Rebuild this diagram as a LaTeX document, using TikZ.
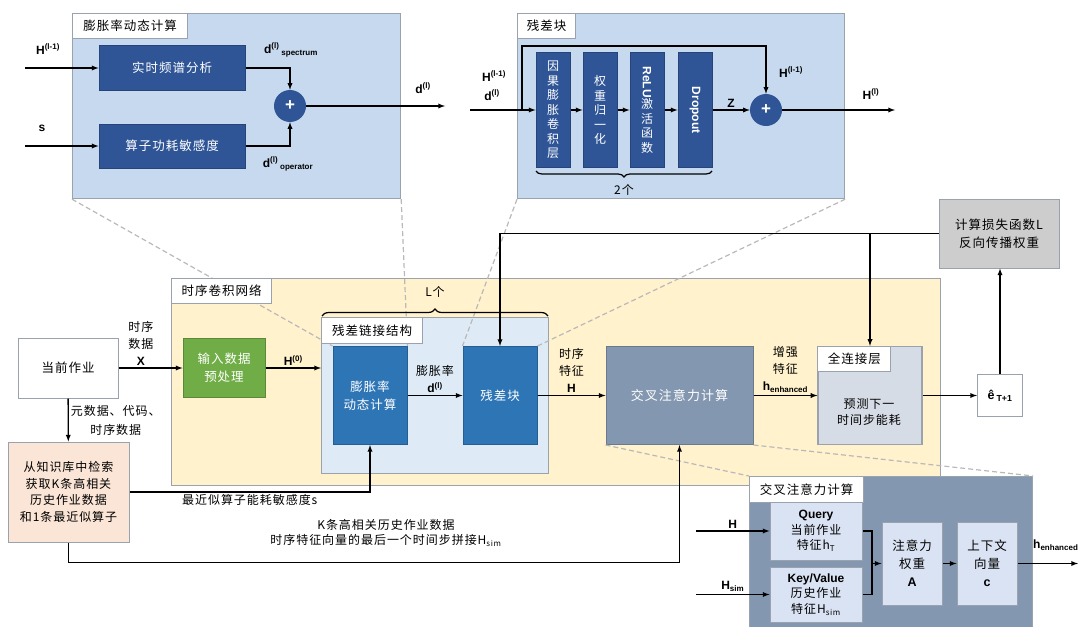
\documentclass[tikz,border=0pt]{standalone}
\usepackage{fontspec}
\usepackage{graphicx}
\setmainfont{Noto Sans CJK SC}[LetterSpace=8]
\newfontfamily\latfont{Liberation Sans}
\usetikzlibrary{decorations.pathreplacing,shapes,arrows,positioning}

\definecolor{edgegray}{HTML}{9AA3AD}
\definecolor{panelblue}{HTML}{C6D9EE}
\definecolor{darkblue}{HTML}{2F5597}
\definecolor{midblue}{HTML}{2E75B6}
\definecolor{paleblue}{HTML}{DEEBF7}
\definecolor{paleyellow}{HTML}{FFF2CC}
\definecolor{leafgreen}{HTML}{70AD47}
\definecolor{slate}{HTML}{8497B0}
\definecolor{mist}{HTML}{D6DCE5}
\definecolor{lossgray}{HTML}{CDCDCD}
\definecolor{peach}{HTML}{FBE5D6}
\definecolor{icebox}{HTML}{DAE3F3}

\tikzstyle{panel} = [rectangle, draw=edgegray, line width=1.2pt, inner sep=0pt, anchor=north west]
\tikzstyle{tag} = [rectangle, draw=edgegray, line width=1pt, fill=white, anchor=north west, inner sep=0pt, font=\fontsize{12.5}{15}\selectfont]
\tikzstyle{box} = [rectangle, draw=edgegray, line width=1pt, inner sep=0pt, align=center, font=\fontsize{12.5}{18}\selectfont]
\tikzstyle{darkbox} = [box, draw=darkblue!80!black, fill=darkblue, text=white]
\tikzstyle{midbox} = [box, draw=midblue!80!black, fill=midblue, text=white]
\tikzstyle{slim} = [darkbox, minimum width=34, minimum height=114, font=\fontsize{12}{14.5}\selectfont]
\tikzstyle{sumnode} = [circle, fill=darkblue, text=white, minimum size=32, inner sep=0pt, font=\latfont\bfseries\fontsize{17}{17}\selectfont]
\tikzstyle{note} = [align=center, inner sep=2pt, font=\fontsize{12}{17}\selectfont]
\tikzstyle{sym} = [inner sep=2pt, font=\latfont\bfseries\fontsize{12}{14}\selectfont]
\tikzstyle{wire} = [draw, line width=1.3pt, ->]
\tikzstyle{zoomline} = [draw=gray!55, line width=1.2pt, dash pattern=on 5pt off 3pt]

\newcommand{\lsym}[1]{{\latfont\bfseries #1}}

\begin{document}
\begin{tikzpicture}[x=1pt,y=-1pt,>=latex]
    \useasboundingbox (0,0) rectangle (1078,626);

    % panels
    \node [panel, fill=panelblue, minimum width=328, minimum height=185] (dynpanel) at (72,13) {};
    \node [panel, fill=panelblue, minimum width=327, minimum height=185] (respanel) at (517,13) {};
    \node [panel, fill=paleyellow, minimum width=769, minimum height=207] (tcn) at (171,278) {};
    \node [panel, fill=paleblue, minimum width=227, minimum height=156] (skipnet) at (321,317) {};
    \node [panel, fill=slate, minimum width=283, minimum height=165] (attpanel) at (749,476) {};
    \node [panel, fill=mist, minimum width=104, minimum height=98, anchor=center] (fc) at (870,395.5) {};

    % main row
    \node [box, fill=white, minimum width=100, minimum height=60] (job) at (68,368) {当前作业};
    \node [box, draw=leafgreen!80!black, fill=leafgreen, text=white, minimum width=82, minimum height=59] (prep) at (224,368) {输入数据\\预处理};
    \node [midbox, minimum width=74, minimum height=98] (dil) at (370,395.5) {膨胀率\\动态计算};
    \node [midbox, minimum width=74, minimum height=98] (resblk) at (500,395.5) {残差块};
    \node [box, draw=slate!80!black, fill=slate, text=white, minimum width=147, minimum height=98, font=\fontsize{13}{18}\selectfont] (cross) at (679.5,395.5) {交叉注意力计算};
    \node [note] (fctext) at (869,412) {预测下一\\时间步能耗};
    \node [box, fill=white, minimum width=45, minimum height=42] (ehat) at (1000,395.5) {\lsym{ê\,\textsubscript{T+1}}};
    \node [box, fill=lossgray, minimum width=120, minimum height=69] (loss) at (999,233.5) {计算损失函数L\\反向传播权重};
    \node [box, fill=peach, minimum width=121, minimum height=100, font=\fontsize{12}{16.5}\selectfont] (kb) at (68.5,492) {从知识库中检索\\获取K条高相关\\历史作业数据\\和1条最近似算子};

    % dilation panel
    \node [darkbox, minimum width=146, minimum height=44] (spec) at (172,68) {实时频谱分析};
    \node [darkbox, minimum width=146, minimum height=44] (opsens) at (172,146) {算子功耗敏感度};
    \node [sumnode] (sum1) at (290,106) {+};
    \coordinate (hin) at (25,68);
    \coordinate (sin) at (25,146);
    \coordinate (dout) at (445,106);

    % residual block panel
    \node [slim] (causal) at (553,110) {因\\果\\膨\\胀\\卷\\积\\层};
    \node [slim] (wnorm) at (600,110) {权\\重\\归\\一\\化};
    \node [slim] (relu) at (647,110) {\rotatebox{-90}{\lsym{ReLU}}\\激\\活\\函\\数};
    \node [slim] (drop) at (695,110) {\rotatebox{-90}{\lsym{Dropout}}};
    \node [sumnode] (sum2) at (766,110) {+};
    \coordinate (resin) at (470,110);
    \coordinate (skip) at (522,110);
    \coordinate (resout) at (895,110);

    % attention panel
    \node [box, fill=icebox, minimum width=92, minimum height=58, font=\fontsize{12}{15.5}\selectfont] (query) at (816,531) {\lsym{Query}\\当前作业\\特征h\textsubscript{T}};
    \node [box, fill=icebox, minimum width=92, minimum height=55, font=\fontsize{12}{15.5}\selectfont] (kv) at (816,594.5) {\lsym{Key/Value}\\历史作业\\特征H\textsubscript{sim}};
    \node [box, fill=icebox, minimum width=60, minimum height=83] (attw) at (912,563.5) {注意力\\权重\\\lsym{A}};
    \node [box, fill=icebox, minimum width=60, minimum height=83] (ctx) at (987,563.5) {上下文\\向量\\\lsym{c}};
    \coordinate (merge) at (872,563.5);
    \coordinate (qin) at (696,531);
    \coordinate (kvin) at (696,594.5);
    \coordinate (attout) at (1078,563.5);

    % zoom lines
    \draw [zoomline] (dynpanel.south west) -- (dil.north west);
    \draw [zoomline] (dynpanel.south east) -- (dil.north east);
    \draw [zoomline] (respanel.south west) -- (resblk.north west);
    \draw [zoomline] (respanel.south east) -- (resblk.north east);
    \draw [zoomline] (cross.south west) -- (attpanel.north west);
    \draw [zoomline] (cross.south east) -- (attpanel.north east);

    % titles
    \node [tag, minimum width=115, minimum height=25] (dyntag) at (dynpanel.north west) {膨胀率动态计算};
    \node [tag, minimum width=58, minimum height=25] (restag) at (respanel.north west) {残差块};
    \node [tag, minimum width=100, minimum height=25] (tcntag) at (tcn.north west) {时序卷积网络};
    \node [tag, minimum width=101, minimum height=26] (skiptag) at (skipnet.north west) {残差链接结构};
    \node [tag, minimum width=73, minimum height=25] (fctag) at (fc.north west) {全连接层};
    \node [tag, minimum width=114, minimum height=26] (atttag) at (attpanel.north west) {交叉注意力计算};

    % dilation panel wires
    \draw [wire] (hin) -- (spec);
    \draw [wire] (sin) -- (opsens);
    \draw [wire] (spec) -| (sum1);
    \draw [wire] (opsens) -| (sum1);
    \draw [wire] (sum1) -- (dout);
    \node [sym] (hinlab) at (48,49) {H\textsuperscript{(l-1)}};
    \node [sym] (sinlab) at (42,128) {s};
    \node [sym] (speclab) at (291,50) {d\textsuperscript{(l)}\,\textsubscript{spectrum}};
    \node [sym] (oplab) at (288,164) {d\textsuperscript{(l)}\,\textsubscript{operator}};
    \node [sym] (doutlab) at (423,88) {d\textsuperscript{(l)}};

    % residual block wires
    \draw [wire] (resin) -- (causal);
    \draw [wire] (skip) -- ++(0,-64) -| (sum2);
    \draw [wire] (causal) -- (wnorm);
    \draw [wire] (wnorm) -- (relu);
    \draw [wire] (relu) -- (drop);
    \draw [wire] (drop) -- node [sym, above] (zlab) {Z} (sum2);
    \draw [wire] (sum2) -- (resout);
    \node [sym] (resinlab1) at (494,76) {H\textsuperscript{(l-1)}};
    \node [sym] (resinlab2) at (492,95) {d\textsuperscript{(l)}};
    \node [sym] (skiplab) at (791,72) {H\textsuperscript{(l-1)}};
    \node [sym] (resoutlab) at (871,94) {H\textsuperscript{(l)}};
    \draw [decorate, decoration={brace, amplitude=6pt}, line width=1.2pt] (712,171) -- (536,171);
    \node [sym, font=\fontsize{12}{14}\selectfont] (twolab) at (624,190) {2个};

    % main wires
    \coordinate (skipin) at (skipnet.west |- prep.east);
    \draw [wire] (job) -- node [note, above, pos=0.35] (xlab) {时序\\数据\\\lsym{X}} (prep);
    \draw [wire] (prep) -- node [sym, above] (h0lab) {H\textsuperscript{(0)}} (skipin);
    \draw [wire] (dil) -- node [note, above] (ratelab) {膨胀率\\\lsym{d\textsuperscript{(l)}}} (resblk);
    \draw [wire] (resblk) -- node [note, above] (hlab) {时序\\特征\\\lsym{H}} (cross);
    \draw [wire] (cross) -- node [note, above] (enhlab) {增强\\特征\\\lsym{h\textsubscript{enhanced}}} (fc);
    \draw [wire] (fc) -- (ehat);
    \draw [wire] (ehat) -- (ehat.north |- loss.south);
    \draw [wire] (loss.west) -| (resblk.north);
    \coordinate (fcfork) at (fc.north |- loss.west);
    \draw [wire] (fcfork) -- (fc.north);
    \draw [decorate, decoration={brace, amplitude=7pt}, line width=1.2pt] (322,316) -- (548,316);
    \node [sym, font=\fontsize{12}{14}\selectfont] (llab) at (435,292) {L个};

    \draw [wire] (job) -- node [note, right, font=\fontsize{12}{19}\selectfont] (metalab) {元数据、代码、\\时序数据} (kb);
    \draw [wire] (kb.east) -| node [note, below, pos=0.25] (slab) {最近似算子能耗敏感度s} (dil.south);
    \draw [wire] (kb.south) -- ++(0,20) -| (cross.south);
    \node [note, font=\fontsize{12}{15.5}\selectfont] (simlab) at (386,533) {K条高相关历史作业数据\\时序特征向量的最后一个时间步拼接H\textsubscript{sim}};

    % attention wires
    \draw [wire] (qin) -- node [sym, above] (hqlab) {H} (query);
    \draw [wire] (kvin) -- node [sym, above] (hsimlab) {H\textsubscript{sim}} (kv);
    \draw [line width=1.3pt] (query.east) -| (merge);
    \draw [line width=1.3pt] (kv.east) -| (merge);
    \draw [wire] (merge) -- (attw);
    \draw [wire] (attw) -- (ctx);
    \draw [wire] (ctx) -- (attout);
    \node [sym, anchor=west] (henhlab) at (1031,545) {h\textsubscript{enhanced}};
\end{tikzpicture}
\end{document}
